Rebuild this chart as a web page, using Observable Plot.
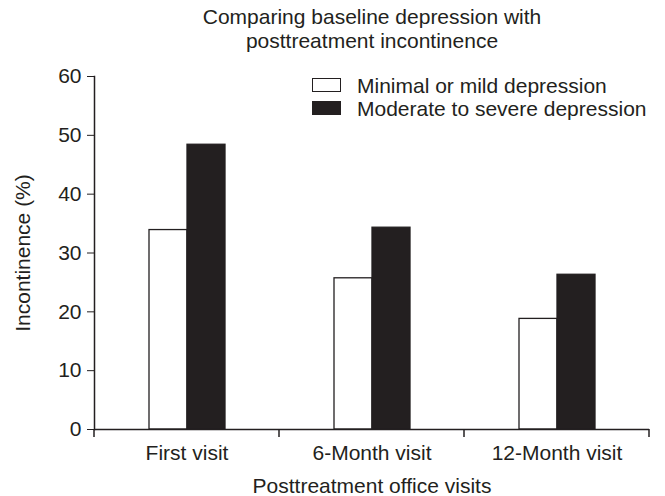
<!DOCTYPE html>
<html>
<head>
<meta charset="utf-8">
<script src="https://cdn.jsdelivr.net/npm/d3@7"></script>
<script src="https://cdn.jsdelivr.net/npm/@observablehq/plot@0.6"></script>
<style>
  body { margin: 0; background: #fff; }
  #wrap { position: relative; width: 665px; height: 496px; font-family: "Liberation Sans", Arial, sans-serif; color: #231f20; }
  #title { box-sizing: border-box; width: 665px; height: 58px; padding: 5px 0 0 79px; font-size: 21px; line-height: 24px; }
  #title div { width: 586px; text-align: center; }
  #legend { position: absolute; left: 0; top: 0; }
  .lg-box { position: absolute; box-sizing: border-box; width: 29px; height: 13.5px; border: 1.4px solid #231f20; }
  .lg-text { position: absolute; font-size: 21px; line-height: 21px; white-space: nowrap; }
</style>
</head>
<body>
<div id="wrap">
  <div id="title"><div>Comparing baseline depression with<br>posttreatment incontinence</div></div>
  <div id="chart"></div>
  <div id="legend"></div>
</div>
<script>
const visits = ["First visit", "6-Month visit", "12-Month visit"];
const series = ["Minimal or mild depression", "Moderate to severe depression"];
const mildValues = [33.9, 25.7, 18.8];
const severeValues = [48.4, 34.3, 26.3];
const seriesColors = ["#ffffff", "#231f20"];
const yTicks = [0, 10, 20, 30, 40, 50, 60];

const ink = "#231f20";
const data = visits.flatMap((v, i) => [
  {visit: v, group: series[0], value: mildValues[i]},
  {visit: v, group: series[1], value: severeValues[i]}
]);

const chart = Plot.plot({
  width: 665,
  height: 438,
  marginLeft: 93,
  marginRight: 15,
  marginTop: 18,
  marginBottom: 67,
  style: {fontSize: "21px", fontFamily: "'Liberation Sans', Arial, sans-serif", color: ink, background: "transparent", overflow: "visible"},
  fx: {domain: visits, padding: 0, axis: "bottom", tickSize: 0, tickPadding: 15.6, label: "Posttreatment office visits", labelAnchor: "center", labelOffset: 63, labelArrow: "none"},
  x: {domain: series, paddingInner: 0, paddingOuter: 1.4175, axis: null},
  y: {domain: [0, 60], ticks: yTicks, tickSize: 7, tickPadding: 6, label: "Incontinence (%)", labelAnchor: "center", labelOffset: 79, labelArrow: "none"},
  color: {domain: series, range: seriesColors},
  marks: [
    Plot.barY(data, {fx: "visit", x: "group", y: "value", fill: "group", stroke: ink, strokeWidth: 1.3}),
    Plot.ruleY([0], {stroke: ink, strokeWidth: 1.5}),
    Plot.frame({anchor: "left", facetAnchor: "left", stroke: ink, strokeWidth: 1.5})
  ]
});

// tick marks at the category boundaries, derived from the fx scale
const fxs = chart.scale("fx");
const ys = chart.scale("y");
const y0 = ys.apply(0);
const bounds = [...fxs.domain.map(d => fxs.apply(d)), fxs.apply(fxs.domain[fxs.domain.length - 1]) + fxs.bandwidth];
d3.select(chart).append("g")
  .selectAll("line").data(bounds).join("line")
  .attr("x1", d => d).attr("x2", d => d)
  .attr("y1", y0).attr("y2", y0 + 8)
  .attr("stroke", ink).attr("stroke-width", 1.5);

document.getElementById("chart").appendChild(chart);

// legend
const lg = d3.select("#legend");
series.forEach((s, i) => {
  lg.append("div").attr("class", "lg-box")
    .style("left", "312px").style("top", (78.3 + 22.7 * i) + "px")
    .style("background", seriesColors[i]);
  lg.append("div").attr("class", "lg-text")
    .style("left", "357px").style("top", (74.9 + 23 * i) + "px")
    .text(s);
});
</script>
</body>
</html>
